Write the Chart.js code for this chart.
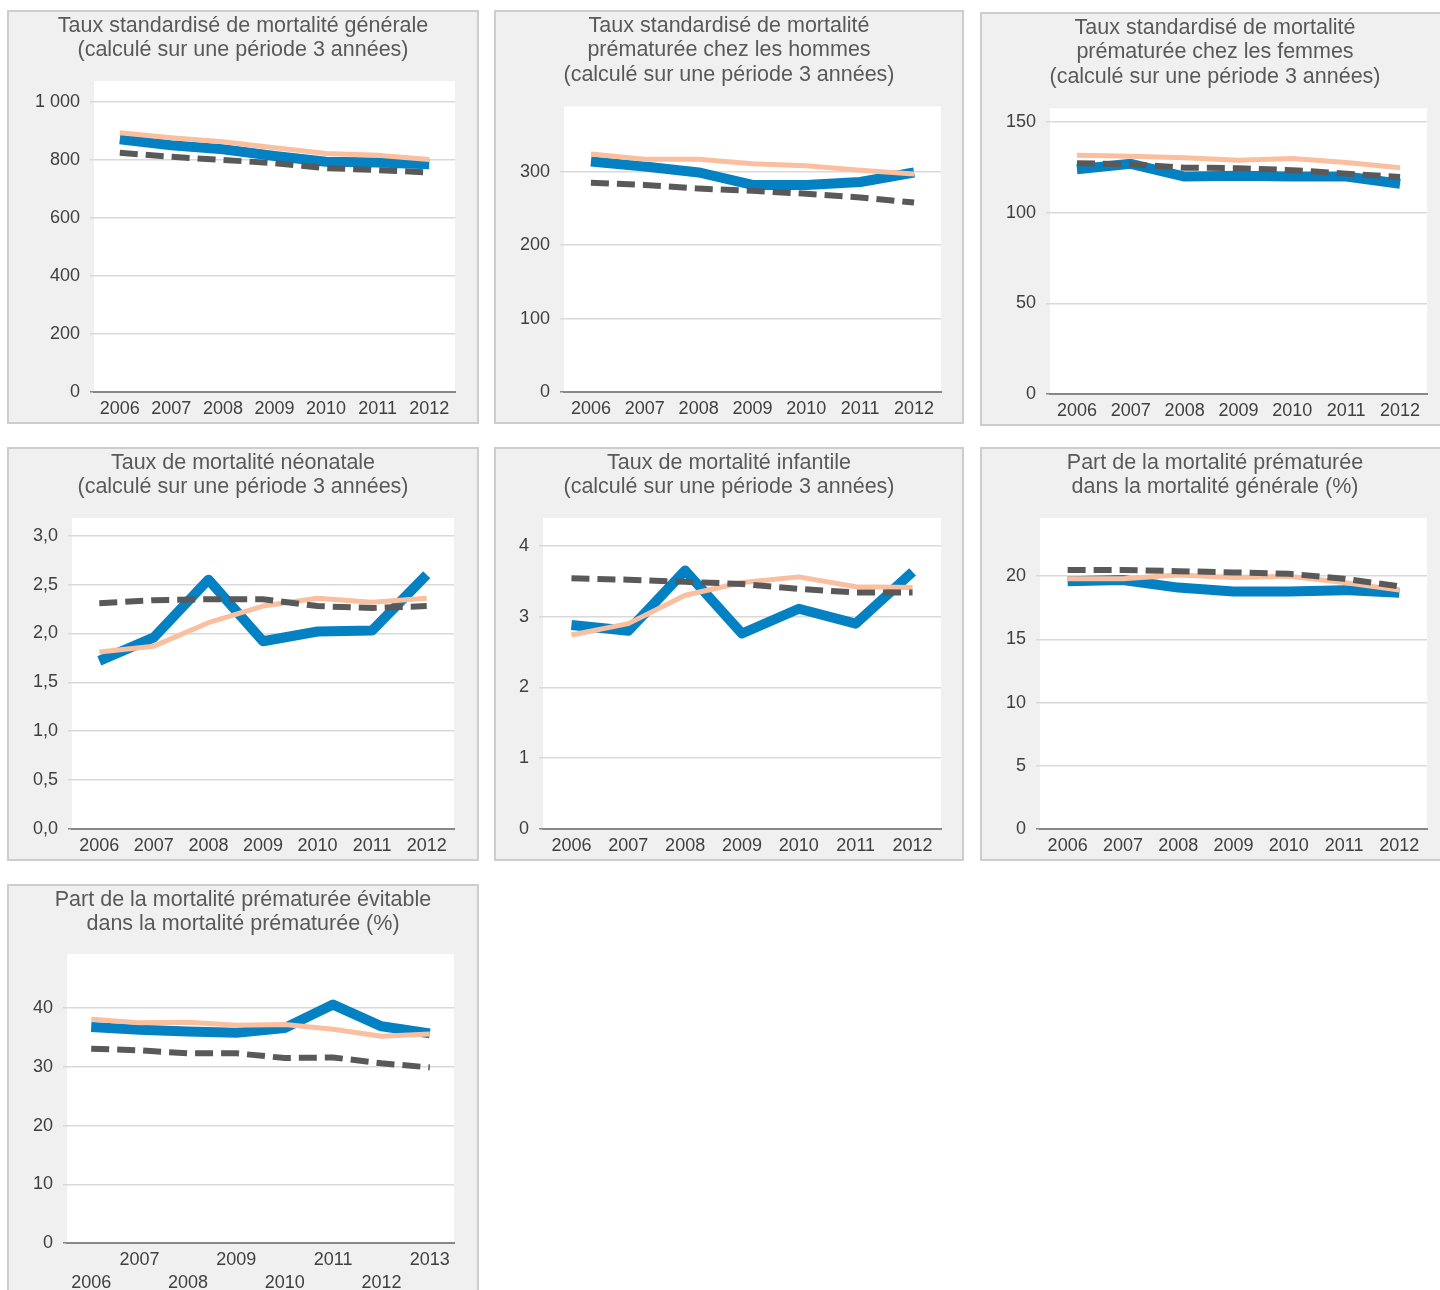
<!DOCTYPE html>
<html>
<head>
<meta charset="utf-8">
<script src="https://cdn.jsdelivr.net/npm/chart.js@4/dist/chart.umd.min.js"></script>
<style>
  body { margin: 0; width: 1440px; height: 1290px; overflow: hidden; background: #fff; position: relative; }
  .panel { position: absolute; box-sizing: border-box; width: 470px; height: 414px; background: #f0f0f0; border: 2px solid #cdcdcd; }
  .panel .inner { position: relative; width: 100%; height: 100%; }
</style>
</head>
<body>
<div class="panel" style="left:7px;top:10px;width:472px"><div class="inner"><canvas id="c1"></canvas></div></div>
<div class="panel" style="left:494px;top:10px"><div class="inner"><canvas id="c2"></canvas></div></div>
<div class="panel" style="left:980px;top:12px"><div class="inner"><canvas id="c3"></canvas></div></div>
<div class="panel" style="left:7px;top:447px;width:472px"><div class="inner"><canvas id="c4"></canvas></div></div>
<div class="panel" style="left:494px;top:447px"><div class="inner"><canvas id="c5"></canvas></div></div>
<div class="panel" style="left:980px;top:447px"><div class="inner"><canvas id="c6"></canvas></div></div>
<div class="panel" style="left:7px;top:884px;width:472px"><div class="inner"><canvas id="c7"></canvas></div></div>
<script>
// Categories
const years = ['2006', '2007', '2008', '2009', '2010', '2011', '2012'];
const years8 = ['2006', '2007', '2008', '2009', '2010', '2011', '2012', '2013'];

// Taux standardisé de mortalité générale
const genBlue = [871, 851, 837, 814, 794, 791, 785];
const genSalmon = [894, 877, 863, 842, 822, 816, 802];
const genDashed = [825, 811, 800, 789, 772, 765, 757];

// Mortalité prématurée - hommes
const homBlue = [314, 307, 299, 282, 282, 286, 299];
const homSalmon = [324, 317, 317, 311, 308, 302, 297];
const homDashed = [285, 282, 277, 274, 270, 265, 258];

// Mortalité prématurée - femmes
const femBlue = [124, 127, 120, 120.4, 120, 120, 116];
const femSalmon = [131.7, 131.2, 130.4, 129, 129.9, 127.7, 124.9];
const femDashed = [127.3, 126.8, 124.9, 124.6, 123.5, 121.6, 119.8];

// Mortalité néonatale
const neoBlue = [1.72, 1.96, 2.55, 1.92, 2.02, 2.03, 2.60];
const neoSalmon = [1.81, 1.87, 2.11, 2.28, 2.36, 2.32, 2.36];
const neoDashed = [2.31, 2.34, 2.35, 2.35, 2.28, 2.26, 2.28];

// Mortalité infantile
const infBlue = [2.88, 2.80, 3.65, 2.76, 3.11, 2.90, 3.63];
const infSalmon = [2.74, 2.90, 3.30, 3.48, 3.56, 3.42, 3.41];
const infDashed = [3.54, 3.52, 3.49, 3.46, 3.39, 3.34, 3.34];

// Part de la mortalité prématurée dans la mortalité générale
const partBlue = [19.6, 19.7, 19.1, 18.8, 18.8, 18.9, 18.7];
const partSalmon = [19.8, 19.8, 20.1, 19.9, 20.0, 19.5, 18.9];
const partDashed = [20.5, 20.5, 20.4, 20.3, 20.2, 19.8, 19.2];

// Part de la mortalité prématurée évitable
const evitBlue = [36.8, 36.3, 36.0, 35.8, 36.6, 40.6, 36.9, 35.7];
const evitSalmon = [38.1, 37.5, 37.6, 37.1, 37.2, 36.4, 35.2, 35.6];
const evitDashed = [33.1, 32.8, 32.3, 32.3, 31.5, 31.6, 30.6, 29.9];

Chart.defaults.font.family = "'Liberation Sans', Arial, sans-serif";
Chart.defaults.animation = false;

const whiteArea = {
    id: 'whiteArea',
    beforeDraw(chart) {
        const a = chart.chartArea;
        chart.ctx.save();
        chart.ctx.fillStyle = '#ffffff';
        chart.ctx.fillRect(a.left, a.top, a.right - a.left, a.bottom - a.top);
        chart.ctx.restore();
    }
};

const thousands = v => String(v).replace(/\B(?=(\d{3})+(?!\d))/g, ' ');
const comma1 = v => v.toFixed(1).replace('.', ',');

function makePanel(id, title, cats, blue, salmon, dashed, o) {
    new Chart(document.getElementById(id), {
        type: 'line',
        data: {
            labels: cats,
            datasets: [
                { data: blue, borderColor: '#0481c3', borderWidth: 10, order: 3, borderJoinStyle: 'round' },
                { data: salmon, borderColor: '#f9bf9f', borderWidth: 5, order: 2, borderJoinStyle: 'round' },
                { data: dashed, borderColor: '#595959', borderWidth: 6, borderDash: [18, 8], order: 1 }
            ]
        },
        options: {
            responsive: true,
            maintainAspectRatio: false,
            elements: { point: { radius: 0 }, line: { tension: 0 } },
            // same padding on both sides so the title stays centred on the panel
            layout: { padding: { left: o.side, right: o.side } },
            plugins: {
                legend: { display: false },
                tooltip: { enabled: false },
                title: {
                    display: true,
                    text: title,
                    color: '#595959',
                    font: { size: 21.5, weight: 'normal', lineHeight: 1.13 },
                    padding: { top: 2, bottom: o.titleGap }
                }
            },
            scales: {
                x: {
                    offset: true,
                    grid: { display: false, drawTicks: false, tickLength: 0 },
                    border: { display: true, color: '#878787', width: 2 },
                    ticks: {
                        color: '#404040',
                        font: { size: 18, lineHeight: o.xLine || 1.2 },
                        padding: o.xPad || 6,
                        autoSkip: false,
                        maxRotation: 0,
                        callback: o.xLabel || function (v, i) { return cats[i]; }
                    },
                    afterFit: s => { s.height = o.xHeight || 30; }
                },
                y: {
                    min: 0,
                    max: o.max,
                    bounds: 'data',
                    border: { display: false },
                    grid: {
                        color: '#d9d9d9',
                        lineWidth: 1.5,
                        tickLength: 4,
                        tickColor: c => c.tick && c.tick.value === 0 ? '#878787' : '#d9d9d9'
                    },
                    ticks: {
                        color: '#404040',
                        font: { size: 18 },
                        padding: 10,
                        callback: o.fmt || (v => String(v))
                    },
                    // ticks only on whole steps, the axis goes a bit above the last one
                    afterBuildTicks: s => {
                        const t = [];
                        for (let k = 0; k * o.step <= o.max + 1e-9; k++) t.push({ value: Math.round(k * o.step * 1000) / 1000 });
                        s.ticks = t;
                    },
                    afterFit: s => { s.width = o.yWidth - o.side; }
                }
            }
        },
        plugins: [whiteArea]
    });
}

const sub = '(calculé sur une période 3 années)';

makePanel('c1', ['Taux standardisé de mortalité générale', sub],
    years, genBlue, genSalmon, genDashed,
    { max: 1072, step: 200, fmt: thousands, yWidth: 85, side: 22, titleGap: 18.5 });
makePanel('c2', ['Taux standardisé de mortalité', 'prématurée chez les hommes', sub],
    years, homBlue, homSalmon, homDashed,
    { max: 389, step: 100, yWidth: 68, side: 21, titleGap: 19.5 });
makePanel('c3', ['Taux standardisé de mortalité', 'prématurée chez les femmes', sub],
    years, femBlue, femSalmon, femDashed,
    { max: 157.6, step: 50, yWidth: 68, side: 21, titleGap: 19.5 });
makePanel('c4', ['Taux de mortalité néonatale', sub],
    years, neoBlue, neoSalmon, neoDashed,
    { max: 3.18, step: 0.5, fmt: comma1, yWidth: 63, side: 23, titleGap: 18.5 });
makePanel('c5', ['Taux de mortalité infantile', sub],
    years, infBlue, infSalmon, infDashed,
    { max: 4.39, step: 1, yWidth: 47, side: 21, titleGap: 18.5 });
makePanel('c6', ['Part de la mortalité prématurée', 'dans la mortalité générale (%)'],
    years, partBlue, partSalmon, partDashed,
    { max: 24.6, step: 5, yWidth: 58, side: 21, titleGap: 18.5 });
makePanel('c7', ['Part de la mortalité prématurée évitable', 'dans la mortalité prématurée (%)'],
    years8, evitBlue, evitSalmon, evitDashed,
    { max: 49.2, step: 10, yWidth: 58, side: 23, titleGap: 17.5, xHeight: 53, xLine: 1.31, xPad: 5,
      xLabel: (v, i) => i % 2 ? [years8[i], ''] : ['', years8[i]] });
</script>
</body>
</html>
